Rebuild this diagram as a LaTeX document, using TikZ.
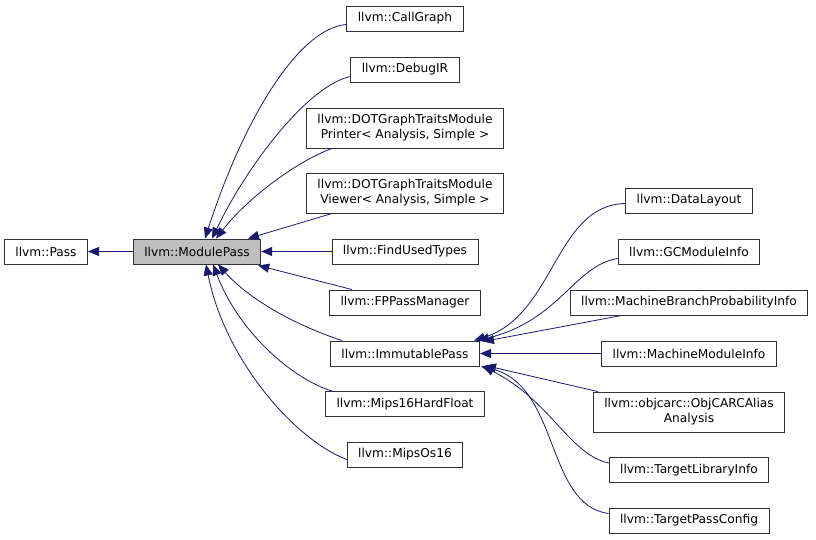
\documentclass[tikz,border=0pt]{standalone}
\usepackage{fontspec}
\setmainfont{DejaVu Sans}
\usepackage{tikz}
\usetikzlibrary{arrows.meta}

\definecolor{edgeblue}{RGB}{25,25,112}

\begin{document}
\begin{tikzpicture}[x=1pt,y=-1pt,>={Triangle[length=11pt,width=9pt]},
  font=\fontsize{12.2}{15}\selectfont]

  \tikzstyle{class}=[rectangle,draw=black!80,line width=0.9pt,fill=white,
  		     inner xsep=11pt,inner ysep=0pt,minimum height=25pt,align=center]
  \tikzstyle{base class}=[class,fill=black!25]
  \tikzstyle{inherit}=[->,draw=edgeblue,line width=0.8pt]

  \useasboundingbox (0,0) rectangle (816,540);

  % Base classes
  \node [class]      (Pass)       at (46,251.5)  {llvm::Pass};
  \node [base class] (ModulePass) at (197,251.5) {llvm::ModulePass};

  % Direct subclasses
  \node [class] (CallGraph)  at (405,18.5)  {llvm::CallGraph};
  \node [class] (DebugIR)    at (405,69.5)  {llvm::DebugIR};
  \node [class,minimum height=40pt]
                (DOTPrinter) at (405,128)   {llvm::DOTGraphTraitsModule\\Printer< Analysis, Simple >};
  \node [class,minimum height=40pt]
                (DOTViewer)  at (405,193)   {llvm::DOTGraphTraitsModule\\Viewer< Analysis, Simple >};
  \node [class] (FindUsed)   at (405,251.5) {llvm::FindUsedTypes};
  \node [class] (FPPM)       at (405,302.5) {llvm::FPPassManager};
  \node [class] (Immutable)  at (405,353.5) {llvm::ImmutablePass};
  \node [class] (Mips16)     at (405,404)   {llvm::Mips16HardFloat};
  \node [class] (MipsOs16)   at (405,454.5) {llvm::MipsOs16};

  % Subclasses of ImmutablePass
  \node [class] (DataLayout) at (689,200.5) {llvm::DataLayout};
  \node [class] (GCInfo)     at (689,251.5) {llvm::GCModuleInfo};
  \node [class] (MBPI)       at (689,302.5) {llvm::MachineBranchProbabilityInfo};
  \node [class] (MMI)        at (689,353.5) {llvm::MachineModuleInfo};
  \node [class,minimum height=40pt]
                (ObjCARC)    at (689,412)   {llvm::objcarc::ObjCARCAlias\\Analysis};
  \node [class] (TLI)        at (689,470)   {llvm::TargetLibraryInfo};
  \node [class] (TPC)        at (689,520.5) {llvm::TargetPassConfig};

  \draw [inherit] (ModulePass) -- (Pass);

  \draw [inherit] ([yshift=-6pt]CallGraph.west)
    .. controls (300,28) and (245,115) .. ([xshift=8pt]ModulePass.north);
  \draw [inherit] ([yshift=-7pt]DebugIR.west)
    .. controls (310,85) and (250,160) .. ([xshift=15pt]ModulePass.north);
  \draw [inherit] ([xshift=26pt]DOTPrinter.south west)
    .. controls (300,160) and (250,195) .. ([xshift=19pt]ModulePass.north);
  \draw [inherit] ([xshift=26pt]DOTViewer.south west) -- ([xshift=51pt]ModulePass.north);
  \draw [inherit] (FindUsed) -- (ModulePass);
  \draw [inherit] ([xshift=23pt]FPPM.north west) -- ([xshift=-3pt,yshift=-1pt]ModulePass.south east);
  \draw [inherit] ([xshift=12pt]Immutable.north west)
    .. controls (295,325) and (250,300) .. ([xshift=21pt]ModulePass.south);
  \draw [inherit] ([xshift=7pt]Mips16.north west)
    .. controls (295,380) and (240,335) .. ([xshift=16pt]ModulePass.south);
  \draw [inherit] ([yshift=-5pt]MipsOs16.west)
    .. controls (295,440) and (225,360) .. ([xshift=9pt]ModulePass.south);

  \draw [inherit] ([yshift=-3pt]DataLayout.west)
    .. controls (555,205) and (555,315) .. ([xshift=-6pt]Immutable.north east);
  \draw [inherit] ([yshift=-7pt]GCInfo.west)
    .. controls (575,265) and (560,320) .. ([xshift=-2pt]Immutable.north east);
  \draw [inherit] ([xshift=52pt]MBPI.south west) -- ([xshift=3pt,yshift=-1pt]Immutable.north east);
  \draw [inherit] (MMI) -- (Immutable);
  \draw [inherit] ([xshift=5pt]ObjCARC.north west) -- ([xshift=5pt,yshift=1pt]Immutable.south east);
  \draw [inherit] ([yshift=7pt]TLI.west)
    .. controls (570,455) and (550,400) .. ([xshift=3pt]Immutable.south east);
  \draw [inherit] ([yshift=7pt]TPC.west)
    .. controls (545,505) and (560,385) .. ([xshift=1pt]Immutable.south east);
\end{tikzpicture}
\end{document}
